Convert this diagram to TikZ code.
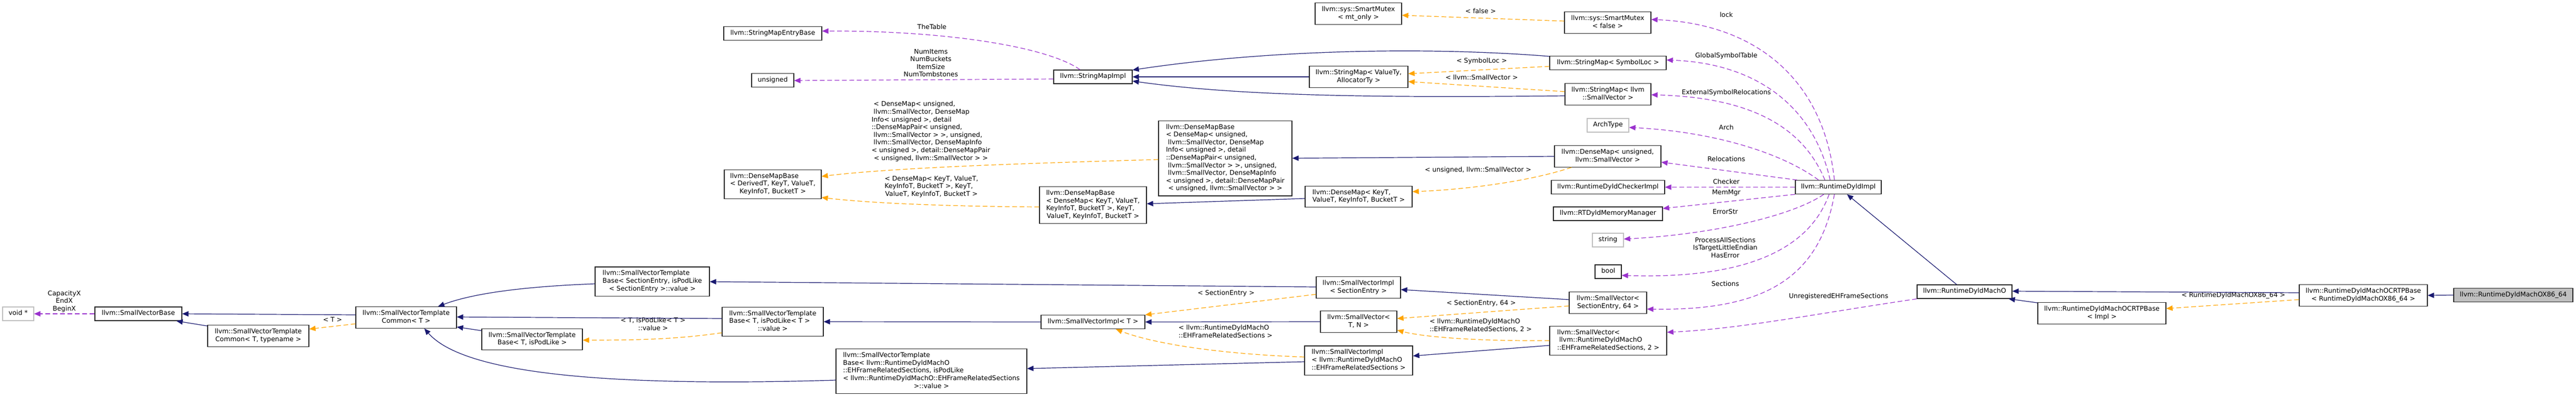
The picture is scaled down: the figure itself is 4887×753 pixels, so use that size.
\documentclass[tikz,border=0pt]{standalone}
\usepackage{fontspec}
\setmainfont{DejaVu Sans}
\usetikzlibrary{arrows.meta,calc}
\definecolor{dxblue}{HTML}{191970}
\definecolor{dxorange}{HTML}{FFA500}
\definecolor{dxpurple}{HTML}{9A32CD}
\definecolor{dxgray}{HTML}{BFBFBF}
\newcommand\dxfont{\fontsize{12.4}{14.6}\selectfont}
\newcommand\dxt[2]{\begin{tabular}{@{}l@{}}#1\\\multicolumn{1}{@{}c@{}}{#2}\end{tabular}}
\newcommand\dxo[1]{\begin{tabular}{@{}c@{}}#1\end{tabular}}
\tikzset{
  box/.style={draw=black!85, line width=1.2pt, fill=white, inner xsep=4pt, inner ysep=5.7pt, font=\dxfont},
  gbox/.style={box, draw=dxgray},
  hbox/.style={box, fill=dxgray},
  lbl/.style={inner sep=0pt, font=\dxfont},
  tipx/.style={-{Triangle[length=12pt,width=10pt]}},
  inh/.style={draw=dxblue, line width=1.2pt, tipx},
  tpl/.style={draw=dxorange, line width=1.2pt, dash pattern=on 9pt off 5pt, tipx},
  usg/.style={draw=dxpurple, line width=1.2pt, dash pattern=on 9pt off 5pt, tipx},
}
\begin{document}
\begin{tikzpicture}[x=1pt,y=-1pt]
\fill[white] (0,0) rectangle (4887,753);
\useasboundingbox (0,0) rectangle (4887,753);

% ---------- nodes ----------
\node[gbox, minimum width=59pt]  (voidp)   at (34.5,596)  {\dxo{void *}};
\node[box, minimum width=165pt]  (svbase)  at (262.5,596) {\dxo{llvm::SmallVectorBase}};
\node[box, minimum width=192pt]  (svtcT2)  at (490,638)   {\dxt{llvm::SmallVectorTemplate}{Common< T, typename >}};
\node[box, minimum width=191pt]  (svtcT)   at (770.5,603) {\dxt{llvm::SmallVectorTemplate}{Common< T >}};
\node[box, minimum width=217pt]  (svtbSE)  at (1237.5,534.5) {\dxt{llvm::SmallVectorTemplate\\Base< SectionEntry, isPodLike}{< SectionEntry >::value >}};
\node[box, minimum width=191pt]  (svtbTP)  at (1009.5,644.5) {\dxt{llvm::SmallVectorTemplate}{Base< T, isPodLike >}};
\node[box, minimum width=192pt]  (svtbTPv) at (1466,611) {\dxt{llvm::SmallVectorTemplate\\Base< T, isPodLike< T >}{::value >}};
\node[box, minimum width=362pt]  (svtbEH)  at (1767,705) {\dxt{llvm::SmallVectorTemplate\\Base< llvm::RuntimeDyldMachO\\::EHFrameRelatedSections, isPodLike\\< llvm::RuntimeDyldMachO::EHFrameRelatedSections}{>::value >}};
\node[box, minimum width=186pt]  (smeb)    at (1466,63.5) {\dxo{llvm::StringMapEntryBase}};
\node[box, minimum width=80pt]   (unsig)   at (1466,152.5) {\dxo{unsigned}};
\node[box, minimum width=184pt]  (dmbD)    at (1466,350) {\dxt{llvm::DenseMapBase\\< DerivedT, KeyT, ValueT,}{KeyInfoT, BucketT >}};
\node[box, minimum width=149pt]  (smimpl)  at (2073.5,146) {\dxo{llvm::StringMapImpl}};
\node[box, minimum width=203pt]  (dmbK)    at (2073.5,389.5) {\dxt{llvm::DenseMapBase\\< DenseMap< KeyT, ValueT,\\KeyInfoT, BucketT >, KeyT,}{ValueT, KeyInfoT, BucketT >}};
\node[box, minimum width=197pt]  (svimplT) at (2073.5,611.5) {\dxo{llvm::SmallVectorImpl< T >}};
\node[box, minimum width=164pt]  (mutexMT) at (2577,26) {\dxt{llvm::sys::SmartMutex}{< mt\_only >}};
\node[box, minimum width=187pt]  (smVA)    at (2577.5,146) {\dxt{llvm::StringMap< ValueTy,}{AllocatorTy >}};
\node[box, minimum width=253pt]  (dmbU)    at (2324.5,300.5) {\dxt{llvm::DenseMapBase\\< DenseMap< unsigned,\\\ llvm::SmallVector, DenseMap\\Info< unsigned >, detail\\::DenseMapPair< unsigned,\\\ llvm::SmallVector > >, unsigned,\\\ llvm::SmallVector, DenseMapInfo\\< unsigned >, detail::DenseMapPair}{< unsigned, llvm::SmallVector > >}};
\node[box, minimum width=203pt]  (dmKT)    at (2577.5,373.5) {\dxt{llvm::DenseMap< KeyT,}{ValueT, KeyInfoT, BucketT >}};
\node[box, minimum width=160pt]  (svimplSE) at (2577,546) {\dxt{llvm::SmallVectorImpl}{< SectionEntry >}};
\node[box, minimum width=145pt]  (svTN)    at (2577.5,611) {\dxt{llvm::SmallVector<}{T, N >}};
\node[box, minimum width=205pt]  (svimplEH) at (2577.5,684.5) {\dxt{llvm::SmallVectorImpl\\< llvm::RuntimeDyldMachO}{::EHFrameRelatedSections >}};
\node[box, minimum width=164pt]  (mutexF)  at (3050,43) {\dxt{llvm::sys::SmartMutex}{< false >}};
\node[box, minimum width=221pt]  (smSL)    at (3050.5,119.5) {\dxo{llvm::StringMap< SymbolLoc >}};
\node[box, minimum width=163pt]  (smSV)    at (3050.5,179) {\dxt{llvm::StringMap< llvm}{::SmallVector >}};
\node[gbox, minimum width=79pt]  (archtype) at (3050.5,238) {\dxo{ArchType}};
\node[box, minimum width=202pt]  (dmUS)    at (3050,297) {\dxt{llvm::DenseMap< unsigned,}{llvm::SmallVector >}};
\node[box, minimum width=215pt]  (checker) at (3050.5,355.5) {\dxo{llvm::RuntimeDyldCheckerImpl}};
\node[box, minimum width=207pt]  (memmgr)  at (3050.5,406) {\dxo{llvm::RTDyldMemoryManager}};
\node[gbox, minimum width=59pt]  (string)  at (3050.5,456) {\dxo{string}};
\node[box, minimum width=50pt]   (bool)    at (3051,516) {\dxo{bool}};
\node[box, minimum width=147pt]  (svSE64)  at (3050.5,575) {\dxt{llvm::SmallVector<}{SectionEntry, 64 >}};
\node[box, minimum width=222pt]  (svEH2)   at (3051,647) {\dxt{llvm::SmallVector<\\\ llvm::RuntimeDyldMachO}{::EHFrameRelatedSections, 2 >}};
\node[box, minimum width=163pt]  (rdimpl)  at (3487.5,355.5) {\dxo{llvm::RuntimeDyldImpl}};
\node[box, minimum width=180pt]  (rdmacho) at (3727,554) {\dxo{llvm::RuntimeDyldMachO}};
\node[box, minimum width=243pt]  (crtpImpl) at (3987.5,595) {\dxt{llvm::RuntimeDyldMachOCRTPBase}{< Impl >}};
\node[box, minimum width=243pt]  (crtpX)   at (4483.5,561) {\dxt{llvm::RuntimeDyldMachOCRTPBase}{< RuntimeDyldMachOX86\_64 >}};
\node[hbox, minimum width=226pt] (x86)     at (4768,560.5) {\dxo{llvm::RuntimeDyldMachOX86\_64}};

% ---------- labels ----------
\node[lbl] (l1)  at (122,573)   {\dxo{CapacityX\\EndX\\BeginX}};
\node[lbl] (l2)  at (631,609)   {\dxo{< T >}};
\node[lbl] (l3)  at (1239,617)  {\dxt{< T, isPodLike< T >}{::value >}};
\node[lbl] (l4)  at (1768,53)   {\dxo{TheTable}};
\node[lbl] (l5)  at (1766,121)  {\dxo{NumItems\\NumBuckets\\ItemSize\\NumTombstones}};
\node[lbl] (l6)  at (1766,250)  {\dxt{\ < DenseMap< unsigned,\\\ llvm::SmallVector, DenseMap\\Info< unsigned >, detail\\::DenseMapPair< unsigned,\\\ llvm::SmallVector > >, unsigned,\\\ llvm::SmallVector, DenseMapInfo\\< unsigned >, detail::DenseMapPair}{< unsigned, llvm::SmallVector > >}};
\node[lbl] (l7)  at (1767,355)  {\dxt{< DenseMap< KeyT, ValueT,\\KeyInfoT, BucketT >, KeyT,}{ValueT, KeyInfoT, BucketT >}};
\node[lbl] (l8)  at (2326,558)  {\dxo{< SectionEntry >}};
\node[lbl] (l9)  at (2325,631)  {\dxt{< llvm::RuntimeDyldMachO}{::EHFrameRelatedSections >}};
\node[lbl] (l10) at (2809,23)   {\dxo{< false >}};
\node[lbl] (l11) at (2811,117)  {\dxo{< SymbolLoc >}};
\node[lbl] (l12) at (2811,149)  {\dxo{< llvm::SmallVector >}};
\node[lbl] (l13) at (2804,324)  {\dxo{< unsigned, llvm::SmallVector >}};
\node[lbl] (l14) at (2810,577)  {\dxo{< SectionEntry, 64 >}};
\node[lbl] (l15) at (2809,619)  {\dxt{< llvm::RuntimeDyldMachO}{::EHFrameRelatedSections, 2 >}};
\node[lbl] (l16) at (3275,30)   {\dxo{lock}};
\node[lbl] (l17) at (3275,107)  {\dxo{GlobalSymbolTable}};
\node[lbl] (l18) at (3275,177)  {\dxo{ExternalSymbolRelocations}};
\node[lbl] (l19) at (3275,244)  {\dxo{Arch}};
\node[lbl] (l20) at (3275,304)  {\dxo{Relocations}};
\node[lbl] (l21) at (3275,347)  {\dxo{Checker}};
\node[lbl] (l22) at (3275,367)  {\dxo{MemMgr}};
\node[lbl] (l23) at (3273,404)  {\dxo{ErrorStr}};
\node[lbl] (l24) at (3273,472)  {\dxo{ProcessAllSections\\IsTargetLittleEndian\\HasError}};
\node[lbl] (l25) at (3273,541)  {\dxo{Sections}};
\node[lbl] (l26) at (3488,564)  {\dxo{UnregisteredEHFrameSections}};
\node[lbl] (l27) at (4237,562)  {\dxo{< RuntimeDyldMachOX86\_64 >}};

% ---------- edges ----------
\draw[usg] (svbase.west) -- (voidp.east);
\draw[inh] ($(svtcT.west)+(0,-5)$) -- (svbase.east);
\draw[inh] ($(svtcT2.north west)+(0,2)$) -- ($(svbase.south east)+(-11,0)$);
\draw[tpl] ($(svtcT.west)+(0,12)$) -- ($(svtcT2.east)+(0,-13)$);
\draw[inh] ($(svtbSE.west)+(0,4.5)$) .. controls (1000,544) and (900,556) .. ($(svtcT.north)+(60.5,0)$);
\draw[inh] ($(svtbTPv.west)+(0,-6)$) -- ($(svtcT.east)+(0,-1)$);
\draw[inh] ($(svtbTP.west)+(0,-16.5)$) -- ($(svtcT.east)+(0,18)$);
\draw[tpl] ($(svtbTPv.west)+(0,21)$) .. controls (1280,645) and (1200,646) .. ($(svtbTP.east)+(0,1.5)$);
\draw[inh] ($(svtbEH.west)+(0,17)$) .. controls (1150,735) and (880,710) .. ($(svtcT.south)+(34.5,0)$);
\draw[inh] (svimplT.west) -- (svtbTPv.east);
\draw[inh] ($(svimplSE.west)+(0,-1)$) -- ($(svtbSE.east)+(0,0.5)$);
\draw[inh] ($(svimplEH.west)+(0,2.5)$) -- ($(svtbEH.east)+(0,-5)$);
\draw[tpl] ($(svimplSE.west)+(0,13)$) -- (svimplT.north east);
\draw[inh] (svTN.west) -- (svimplT.east);
\draw[tpl] ($(svimplEH.west)+(0,-6.5)$) .. controls (2300,672) and (2180,650) .. ($(svimplT.south)+(43.5,0)$);
\draw[usg] ($(smimpl.north)+(-24.5,0)$) .. controls (1990,90) and (1800,58) .. ($(smeb.east)+(0,-4.5)$);
\draw[usg] ($(smimpl.west)+(0,4)$) -- ($(unsig.east)+(0,0.5)$);
\draw[inh] (smVA.west) -- (smimpl.east);
\draw[inh] ($(smSL.west)+(0,-12.5)$) .. controls (2700,88) and (2400,95) .. ($(smimpl.east)+(0,-13)$);
\draw[inh] ($(smSV.west)+(0,3)$) .. controls (2600,186) and (2350,182) .. ($(smimpl.east)+(0,8)$);
\draw[tpl] ($(smSL.west)+(0,6.5)$) -- ($(smVA.east)+(0,-6)$);
\draw[tpl] ($(smSV.west)+(0,-5)$) -- ($(smVA.east)+(0,9)$);
\draw[tpl] ($(mutexF.west)+(0,-3)$) -- ($(mutexMT.east)+(0,3)$);
\draw[tpl] ($(dmbU.west)+(0,2.5)$) .. controls (1950,310) and (1700,318) .. ($(dmbD.east)+(0,-15)$);
\draw[inh] ($(dmKT.west)+(0,3.5)$) -- ($(dmbK.east)+(0,-2.5)$);
\draw[tpl] ($(dmbK.west)+(0,3.5)$) .. controls (1800,392) and (1650,386) .. ($(dmbD.east)+(0,25)$);
\draw[inh] (dmUS.west) -- (dmbU.east);
\draw[tpl] ($(dmUS.south west)+(33,0)$) .. controls (2900,345) and (2780,360) .. ($(dmKT.east)+(0,-9.5)$);
\draw[inh] ($(svSE64.west)+(0,-6)$) -- ($(svimplSE.east)+(0,4)$);
\draw[tpl] ($(svSE64.west)+(0,6)$) -- ($(svTN.east)+(0,-6)$);
\draw[tpl] (svEH2.west) .. controls (2800,648) and (2700,640) .. ($(svTN.east)+(0,16)$);
\draw[inh] ($(svEH2.west)+(0,9)$) -- ($(svimplEH.east)+(0,-8.5)$);
\draw[usg] ($(rdimpl.north)+(-7.5,0)$) .. controls (3460,150) and (3330,45) .. ($(mutexF.east)+(0,-6)$);
\draw[usg] ($(rdimpl.north)+(-15.5,0)$) .. controls (3440,200) and (3330,120) .. ($(smSL.east)+(0,-5.5)$);
\draw[usg] ($(rdimpl.north)+(-25.5,0)$) .. controls (3420,240) and (3320,185) .. ($(smSV.east)+(0,1)$);
\draw[usg] ($(rdimpl.north)+(-37.5,0)$) .. controls (3380,290) and (3250,250) .. ($(archtype.east)+(0,4)$);
\draw[usg] ($(rdimpl.north west)+(4,0)$) -- ($(dmUS.east)+(0,11)$);
\draw[usg] (rdimpl.west) -- (checker.east);
\draw[usg] (rdimpl.south west) -- ($(memmgr.east)+(0,-10)$);
\draw[usg] ($(rdimpl.south)+(-27.5,0)$) .. controls (3400,410) and (3250,445) .. ($(string.east)+(0,-2)$);
\draw[usg] ($(rdimpl.south)+(-17.5,0)$) .. controls (3430,480) and (3300,530) .. ($(bool.east)+(0,7)$);
\draw[usg] ($(rdimpl.south)+(-7.5,0)$) .. controls (3450,540) and (3330,590) .. ($(svSE64.east)+(0,12)$);
\draw[usg] (rdmacho.south west) .. controls (3450,595) and (3300,625) .. ($(svEH2.east)+(0,-16)$);
\draw[inh] ($(rdmacho.north)+(-15,0)$) -- ($(rdimpl.south)+(16.5,0)$);
\draw[inh] ($(crtpImpl.north west)+(0,1)$) -- ($(rdmacho.south east)+(-7,0)$);
\draw[inh] ($(crtpX.west)+(0,-5)$) -- ($(rdmacho.east)+(0,-1)$);
\draw[tpl] ($(crtpX.west)+(0,8)$) -- ($(crtpImpl.east)+(0,-9)$);
\draw[inh] (x86.west) -- (crtpX.east);
\end{tikzpicture}
\end{document}
